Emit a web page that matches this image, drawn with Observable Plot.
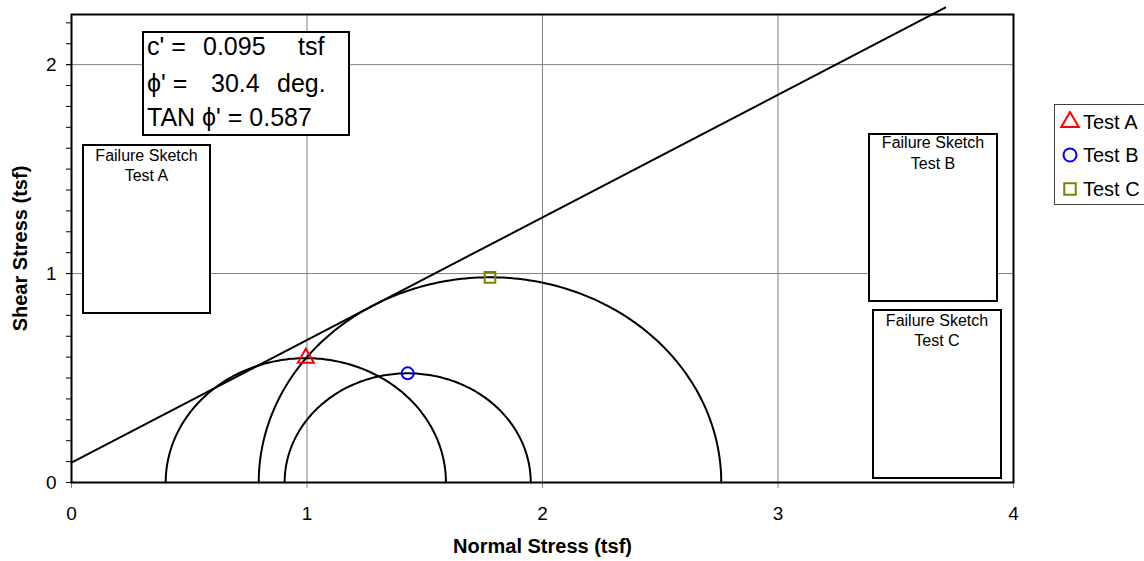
<!DOCTYPE html>
<html>
<head>
<meta charset="utf-8">
<script src="https://cdn.jsdelivr.net/npm/d3@7"></script>
<script src="https://cdn.jsdelivr.net/npm/@observablehq/plot@0.6"></script>
<style>
  html, body { margin: 0; padding: 0; background: #fff; }
  body { width: 1144px; height: 561px; overflow: hidden; font-family: "Liberation Sans", Arial, sans-serif; }
  #wrap { position: relative; width: 1144px; height: 561px; overflow: hidden; }
  #wrap svg g[aria-label$="tick label"] text { font-size: 19px; }
  .ann { position: absolute; white-space: pre; color: #000; }
  .box { position: absolute; box-sizing: border-box; background: #fff; }
</style>
</head>
<body>
<div id="wrap"></div>
<script>
// ---- data ----
const tests = ["Test A", "Test B", "Test C"];
const sigma3 = [0.40, 0.905, 0.795];     // minor principal stress (tsf)
const sigma1 = [1.59, 1.95, 2.759];      // major principal stress (tsf)
const markerSymbols = ["triangle", "circle", "square"];
const markerColors = ["#ff0000", "#0000ff", "#808000"];
const cohesion = 0.095;                  // c' (tsf)
const phiDeg = 30.4;                     // phi' (deg)
const tanPhi = 0.587;
const envelopeSigma = [0, 3.71];         // extent of failure envelope
const xTicks = [0, 1, 2, 3, 4];
const yTicks = [0, 1, 2];
const yMinorTicks = d3.range(0, 23).map(i => i / 10);
const xLabel = "Normal Stress (tsf)";
const yLabel = "Shear Stress (tsf)";

// ---- derived tables ----
const circles = [];
tests.forEach((t, i) => {
  const c = (sigma1[i] + sigma3[i]) / 2, r = (sigma1[i] - sigma3[i]) / 2;
  for (let k = 0; k <= 180; k++) {
    const a = k * Math.PI / 180;
    circles.push({test: t, x: c + r * Math.cos(a), y: r * Math.sin(a)});
  }
});
const tops = tests.map((t, i) => ({test: t, x: (sigma1[i] + sigma3[i]) / 2, y: (sigma1[i] - sigma3[i]) / 2}));
const envelope = envelopeSigma.map(s => ({x: s, y: cohesion + tanPhi * s}));

const font = '"Liberation Sans", Arial, sans-serif';
const chart = Plot.plot({
  width: 1144, height: 561,
  marginLeft: 71, marginRight: 131, marginTop: 14, marginBottom: 79,
  x: {domain: [0, 4]},
  y: {domain: [0, 2.24]},
  style: {fontFamily: font, fontSize: "19px", color: "#000", background: "#fff", overflow: "visible"},
  marks: [
    Plot.gridX(xTicks.slice(1, 4), {stroke: "#808080", strokeOpacity: 1}),
    Plot.gridY(yTicks.slice(1), {stroke: "#808080", strokeOpacity: 1}),
    Plot.axisX(xTicks, {tickSize: 6, tickPadding: 18, stroke: "#808080", tickFormat: d => String(d), label: null}),
    Plot.axisY(yMinorTicks, {tickSize: 5, tickFormat: () => "", label: null}),
    Plot.axisY(yTicks, {tickSize: 5, tickPadding: 10, tickFormat: d => String(d), label: null}),
    Plot.frame({stroke: "#000", strokeWidth: 2}),
    Plot.line(circles, {x: "x", y: "y", z: "test", stroke: "#000", strokeWidth: 2}),
    Plot.line(envelope, {x: "x", y: "y", stroke: "#000", strokeWidth: 2}),
    ...tests.map((t, i) => Plot.dot([tops[i]], {
      x: "x", y: "y", symbol: markerSymbols[i], stroke: markerColors[i],
      fill: "none", strokeWidth: 2, r: 6
    })),
    Plot.text([yLabel], {frameAnchor: "left", textAnchor: "middle", dx: -51, rotate: -90, fontWeight: "bold", fontSize: 20}),
    Plot.text([xLabel], {frameAnchor: "bottom", textAnchor: "middle", dy: 70, fontWeight: "bold", fontSize: 20})
  ]
});
const wrap = document.getElementById("wrap");
wrap.appendChild(chart);

// ---- annotation overlays ----
function box(l, t, w, h, border) {
  const d = document.createElement("div");
  d.className = "box";
  Object.assign(d.style, {left: l + "px", top: t + "px", width: w + "px", height: h + "px", border: border});
  wrap.appendChild(d);
  return d;
}
function text(str, left, baseline, size, opts = {}) {
  const d = document.createElement("div");
  d.className = "ann";
  d.textContent = str;
  const top = baseline - (size * 0.905 + (size - size * 1.117) / 2);
  Object.assign(d.style, {left: left + "px", top: top + "px", fontSize: size + "px", lineHeight: size + "px"}, opts);
  wrap.appendChild(d);
  return d;
}
function centered(str, cx, baseline, size) {
  return text(str, cx - 100, baseline, size, {width: "200px", textAlign: "center"});
}

// parameter box
box(142, 31, 208, 105, "2px solid #000");
text("c' =", 147, 55, 25);
text(cohesion.toFixed(3), 203, 55, 25);
text("tsf", 298, 55, 25);
text("\u03d5' =", 147, 91.7, 25);
text(phiDeg.toFixed(1), 211, 91.7, 25);
text("deg.", 277, 91.7, 25);
text("TAN \u03d5' = " + tanPhi.toFixed(3), 147, 125.7, 25);

// failure sketch boxes
const sketches = [
  {l: 82, t: 144, w: 129, h: 170, b1: 161.5, b2: 181.7, name: tests[0]},
  {l: 868, t: 133, w: 130, h: 169, b1: 148.3, b2: 170, name: tests[1]},
  {l: 872, t: 309, w: 130, h: 170, b1: 326.7, b2: 346.7, name: tests[2]}
];
sketches.forEach(s => {
  box(s.l, s.t, s.w, s.h, "2px solid #000");
  centered("Failure Sketch", s.l + s.w / 2, s.b1, 16);
  centered(s.name, s.l + s.w / 2, s.b2, 16);
});

// legend
box(1054, 104, 120, 101, "1px solid #404040");
const rowsY = [121.5, 154.8, 188.5];
tests.forEach((t, i) => {
  const svg = d3.create("svg").attr("width", 22).attr("height", 22)
    .style("position", "absolute").style("left", (1069.5 - 11) + "px").style("top", (rowsY[i] - 11) + "px");
  svg.append("path")
    .attr("transform", "translate(11,11)")
    .attr("d", d3.symbol(i === 0 ? d3.symbolTriangle : i === 1 ? d3.symbolCircle : d3.symbolSquare, Math.PI * 42)())
    .attr("fill", "none").attr("stroke", markerColors[i]).attr("stroke-width", 2);
  wrap.appendChild(svg.node());
  text(t, 1083, rowsY[i] + 7, 20);
});
</script>
</body>
</html>
